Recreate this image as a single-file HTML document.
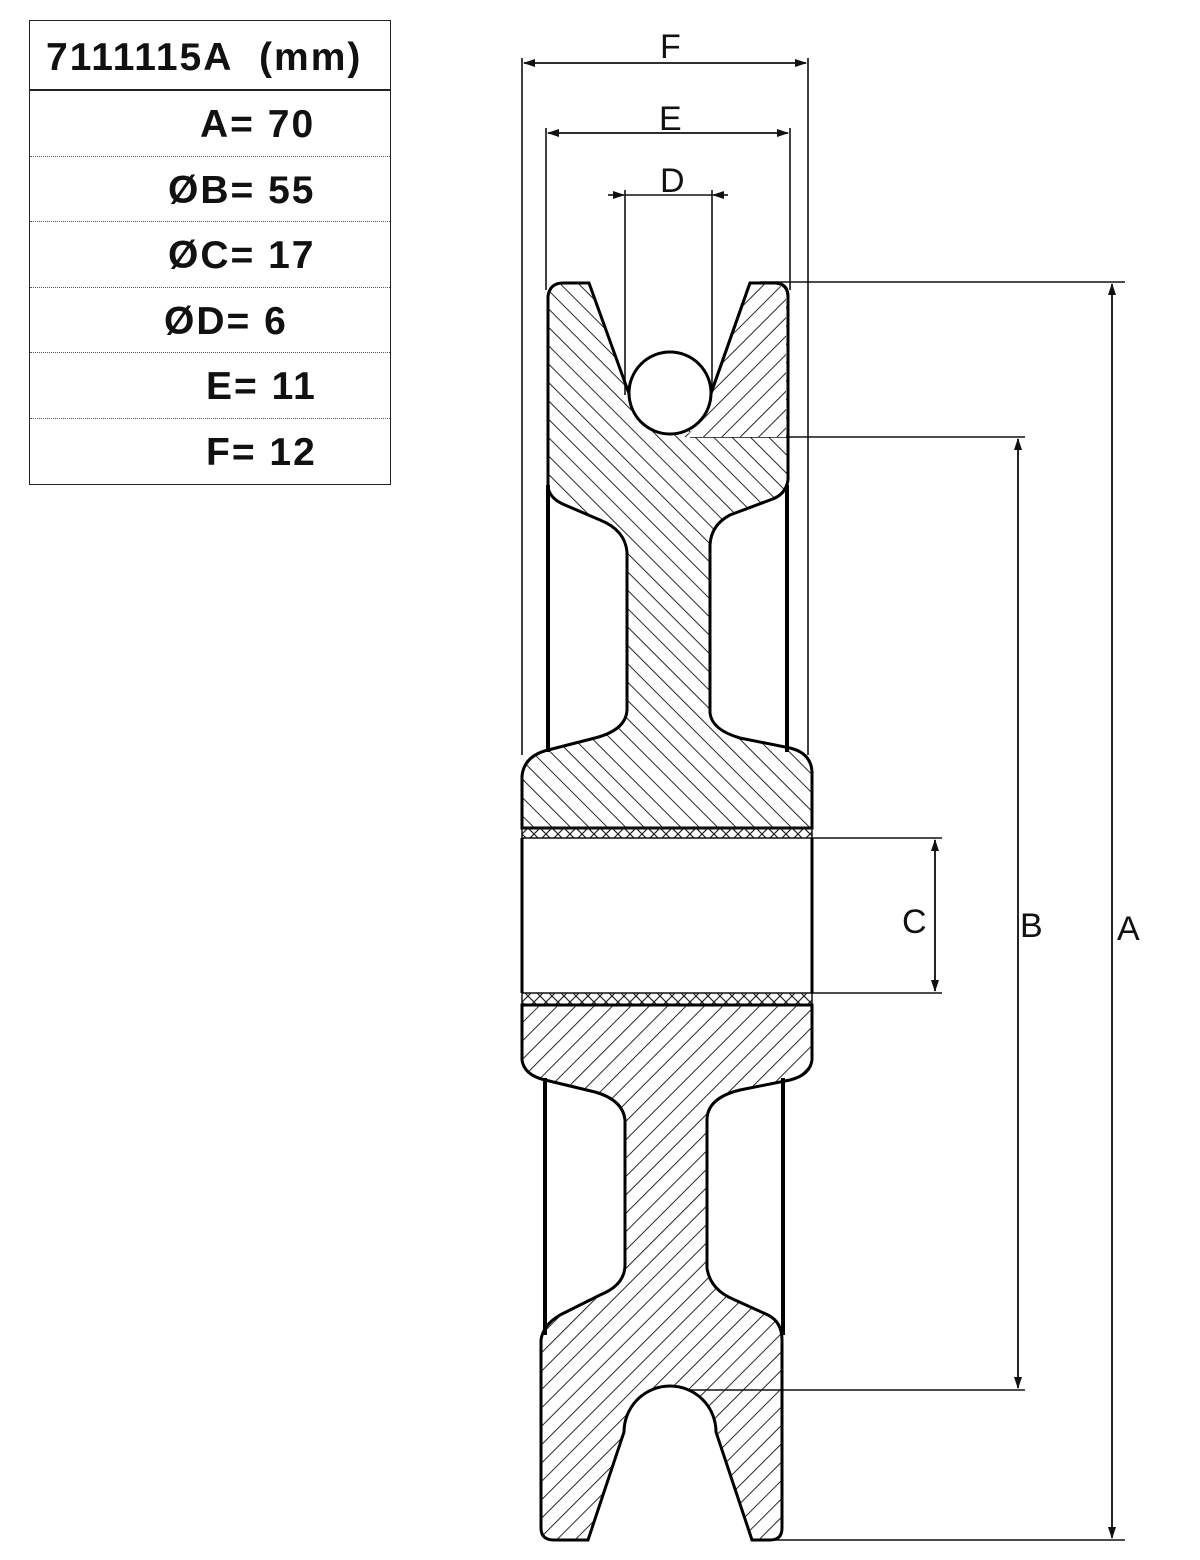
<!DOCTYPE html>
<html><head><meta charset="utf-8"><style>
html,body{margin:0;padding:0;background:#fff;}
.t{position:absolute;left:29px;top:20px;width:362px;height:465px;border:1.5px solid #222;box-sizing:border-box;font-family:"Liberation Sans",sans-serif;font-weight:bold;font-size:39px;letter-spacing:2px;color:#111;}
.r{height:65.6px;border-bottom:1px dotted #555;box-sizing:border-box;line-height:68px;}
.h{height:70px;border-bottom:2px solid #222;line-height:74px;padding-left:16px;}
</style></head><body>
<div class="t">
<div class="r h">7111115A&nbsp; (mm)</div>
<div class="r" style="padding-left:170px">A= 70</div>
<div class="r" style="padding-left:138px">ØB= 55</div>
<div class="r" style="padding-left:138px">ØC= 17</div>
<div class="r" style="padding-left:134px">ØD= 6</div>
<div class="r" style="padding-left:176px">E= 11</div>
<div class="r" style="padding-left:176px;border-bottom:none">F= 12</div>
</div>
<svg width="1200" height="1560" style="position:absolute;left:0;top:0" font-family="Liberation Sans, sans-serif">
<defs>
<pattern id="hf" width="13" height="13" patternUnits="userSpaceOnUse" patternTransform="rotate(45)"><line x1="0" y1="0" x2="0" y2="13" stroke="#111" stroke-width="1.8"/></pattern>
<pattern id="hb" width="13" height="13" patternUnits="userSpaceOnUse" patternTransform="rotate(-45)"><line x1="0" y1="0" x2="0" y2="13" stroke="#111" stroke-width="1.8"/></pattern>
<pattern id="hx" width="12" height="12" patternUnits="userSpaceOnUse"><path d="M0,0L12,12M12,0L0,12" stroke="#222" stroke-width="1.2"/></pattern>
<marker id="ar" markerWidth="12" markerHeight="8" refX="11" refY="4" orient="auto" markerUnits="userSpaceOnUse"><path d="M0,0L12,4L0,8Z" fill="#111"/></marker>
</defs>
<g stroke="#111" stroke-width="1.6" fill="none">
<line x1="522" y1="58" x2="522" y2="755"/><line x1="808" y1="58" x2="808" y2="755"/>
<line x1="524" y1="63" x2="806" y2="63" marker-end="url(#ar)"/>
<line x1="806" y1="63" x2="524" y2="63" marker-end="url(#ar)"/>
<line x1="546" y1="128" x2="546" y2="290"/><line x1="790" y1="128" x2="790" y2="290"/>
<line x1="548" y1="133" x2="788" y2="133" marker-end="url(#ar)"/><line x1="788" y1="133" x2="548" y2="133" marker-end="url(#ar)"/>
<line x1="625" y1="190" x2="625" y2="395"/><line x1="712" y1="190" x2="712" y2="395"/>
<line x1="608" y1="195" x2="624" y2="195" marker-end="url(#ar)"/><line x1="728" y1="195" x2="713" y2="195" marker-end="url(#ar)"/>
<line x1="625" y1="195" x2="712" y2="195"/>
<line x1="760" y1="282" x2="1125" y2="282"/><line x1="760" y1="1540" x2="1125" y2="1540"/>
<line x1="1112" y1="1538" x2="1112" y2="284" marker-end="url(#ar)"/><line x1="1112" y1="284" x2="1112" y2="1538" marker-end="url(#ar)"/>
<line x1="690" y1="437" x2="1025" y2="437"/><line x1="690" y1="1390" x2="1025" y2="1390"/>
<line x1="1018" y1="1388" x2="1018" y2="439" marker-end="url(#ar)"/><line x1="1018" y1="439" x2="1018" y2="1388" marker-end="url(#ar)"/>
<line x1="812" y1="838" x2="942" y2="838"/><line x1="812" y1="993" x2="942" y2="993"/>
<line x1="935" y1="991" x2="935" y2="840" marker-end="url(#ar)"/><line x1="935" y1="840" x2="935" y2="991" marker-end="url(#ar)"/>
</g>
<g font-size="34" fill="#111">
<text x="660" y="58">F</text><text x="659" y="130">E</text><text x="660" y="192">D</text>
<text x="902" y="933">C</text><text x="1020" y="937">B</text><text x="1117" y="940">A</text>
</g>
<g stroke="#000" stroke-width="4"><line x1="548" y1="485" x2="548" y2="752"/><line x1="787" y1="485" x2="787" y2="752"/>
<line x1="545" y1="1078" x2="545" y2="1335"/><line x1="783" y1="1078" x2="783" y2="1335"/></g>
<path d="M548,296 Q550,283 563,283 L589,283 L632,402 A40,40 0 0 0 708,402 L750,283 L776,283 Q788,284 788,297 L788,480 Q786,495 770,500 L730,515 Q711,525 710,545 L710,713 Q712,730 740,738 L790,748 Q811,753 812,772 L812,828 L522,828 L522,776 Q524,756 548,750 L595,738 Q626,730 627,710 L627,552 Q625,530 600,520 L565,505 Q548,498 548,485 Z" fill="url(#hb)" stroke="#000" stroke-width="3"/>
<path d="M750,285 L708,402 A40,40 0 0 1 680,437 L786,437 L786,298 Q786,286 776,285 Z" fill="#fff"/>
<path d="M750,285 L708,402 A40,40 0 0 1 680,437 L786,437 L786,298 Q786,286 776,285 Z" fill="url(#hf)"/>
<path d="M750,283 L708,402 M776,283 Q788,284 788,297 L788,440" stroke="#000" stroke-width="3" fill="none"/>
<circle cx="670" cy="393" r="41" fill="#fff" stroke="#000" stroke-width="3"/>
<rect x="522" y="828" width="290" height="10" fill="url(#hx)" stroke="#111" stroke-width="1.5"/>
<rect x="522" y="993" width="290" height="12" fill="url(#hx)" stroke="#111" stroke-width="1.5"/>
<line x1="522" y1="838" x2="522" y2="993" stroke="#000" stroke-width="3"/><line x1="812" y1="838" x2="812" y2="993" stroke="#000" stroke-width="3"/>
<path d="M522,1005 L812,1005 L812,1060 Q810,1075 790,1080 L740,1090 Q707,1098 707,1120 L707,1268 Q710,1290 735,1300 L768,1315 Q782,1322 782,1340 L782,1528 Q782,1540 770,1540 L752,1540 L716,1432 A46,46 0 0 0 624,1432 L588,1540 L554,1540 Q541,1540 541,1528 L541,1340 Q543,1325 560,1315 L600,1295 Q625,1285 625,1265 L625,1120 Q623,1100 595,1092 L545,1080 Q524,1075 522,1060 Z" fill="url(#hf)" stroke="#000" stroke-width="3"/>
</svg>
</body></html>
